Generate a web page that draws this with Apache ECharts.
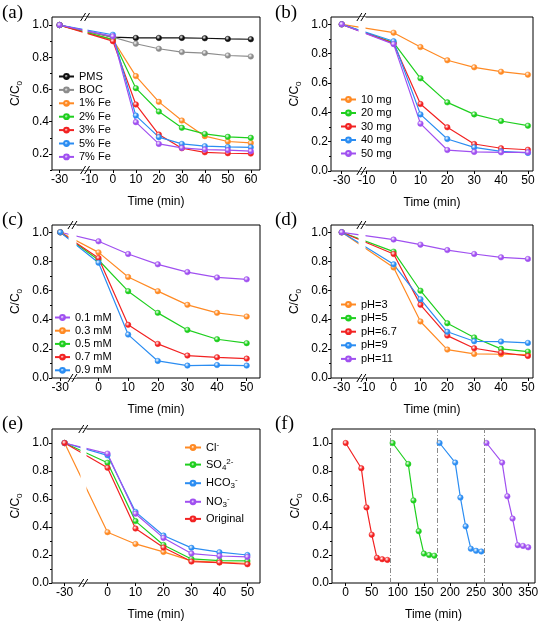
<!DOCTYPE html>
<html><head><meta charset="utf-8">
<script src="https://cdn.jsdelivr.net/npm/echarts@6/dist/echarts.min.js"></script>
<style>html,body{margin:0;padding:0;background:#fff}#c{width:544px;height:622px}</style>
</head><body><div id="c"></div>
<script>
// ---------------- data ----------------
const timeA = [-30, 0, 10, 20, 30, 40, 50, 60];
const pmsA  = [1.00, 0.925, 0.920, 0.920, 0.920, 0.918, 0.914, 0.912];
const bocA  = [1.00, 0.925, 0.884, 0.853, 0.832, 0.826, 0.811, 0.805];
const fe1A  = [1.00, 0.910, 0.683, 0.523, 0.407, 0.310, 0.277, 0.268];
const fe2A  = [1.00, 0.910, 0.608, 0.463, 0.362, 0.324, 0.306, 0.300];
const fe3A  = [1.00, 0.900, 0.507, 0.320, 0.235, 0.210, 0.204, 0.202];
const fe5A  = [1.00, 0.940, 0.438, 0.304, 0.262, 0.248, 0.243, 0.241];
const fe7A  = [1.00, 0.930, 0.397, 0.262, 0.237, 0.227, 0.223, 0.217];

const timeB = [-30, 0, 10, 20, 30, 40, 50];
const mg10 = [1.00, 0.943, 0.845, 0.755, 0.707, 0.677, 0.657];
const mg20 = [1.00, 0.875, 0.632, 0.468, 0.386, 0.341, 0.309];
const mg30 = [1.00, 0.870, 0.457, 0.298, 0.184, 0.155, 0.145];
const mg40 = [1.00, 0.885, 0.386, 0.218, 0.161, 0.134, 0.123];
const mg50 = [1.00, 0.865, 0.323, 0.143, 0.130, 0.127, 0.127];

const mM01 = [1.00, 0.938, 0.851, 0.780, 0.727, 0.690, 0.677];
const mM03 = [1.00, 0.862, 0.693, 0.596, 0.502, 0.447, 0.422];
const mM05 = [1.00, 0.810, 0.596, 0.447, 0.330, 0.266, 0.239];
const mM07 = [1.00, 0.823, 0.365, 0.234, 0.154, 0.142, 0.133];
const mM09 = [1.00, 0.791, 0.298, 0.117, 0.085, 0.089, 0.085];

const pH3  = [1.00, 0.759, 0.388, 0.195, 0.165, 0.163, 0.160];
const pH5  = [1.00, 0.867, 0.599, 0.376, 0.278, 0.200, 0.181];
const pH67 = [1.00, 0.851, 0.502, 0.291, 0.204, 0.174, 0.151];
const pH9  = [1.00, 0.780, 0.541, 0.317, 0.252, 0.250, 0.241];
const pH11 = [1.00, 0.950, 0.915, 0.878, 0.851, 0.828, 0.817];

const ionCl   = [1.00, 0.363, 0.279, 0.222, 0.158, 0.148, 0.141];
const ionSO4  = [1.00, 0.859, 0.442, 0.272, 0.172, 0.160, 0.158];
const ionHCO3 = [1.00, 0.912, 0.508, 0.339, 0.251, 0.220, 0.200];
const ionNO3  = [1.00, 0.924, 0.495, 0.322, 0.210, 0.193, 0.186];
const ionOrig = [1.00, 0.823, 0.389, 0.253, 0.153, 0.146, 0.134];

const cycTime1 = [0, 30, 40, 50, 60, 70, 80];
const cycVal1  = [1.00, 0.82, 0.54, 0.345, 0.18, 0.17, 0.165];
const cycTime2 = [90, 120, 130, 140, 150, 160, 170];
const cycVal2  = [1.00, 0.85, 0.59, 0.37, 0.21, 0.20, 0.195];
const cycTime3 = [180, 210, 220, 230, 240, 250, 260];
const cycVal3  = [1.00, 0.86, 0.61, 0.405, 0.245, 0.23, 0.225];
const cycTime4 = [270, 300, 310, 320, 330, 340, 350];
const cycVal4  = [1.00, 0.86, 0.62, 0.46, 0.27, 0.265, 0.255];
const cycleDividers = [85, 175, 265];

const xTicksA  = [-30, -10, 0, 10, 20, 30, 40, 50, 60];
const xTicksBD = [-30, -10, 0, 10, 20, 30, 40, 50];
const xTicksCE = [-30, 0, 10, 20, 30, 40, 50];
const xTicksF  = [0, 50, 100, 150, 200, 250, 300, 350];
const yTicks   = [0.0, 0.2, 0.4, 0.6, 0.8, 1.0];
const yTicksA  = [0.2, 0.4, 0.6, 0.8, 1.0];
const yMinor   = [0.1, 0.3, 0.5, 0.7, 0.9];
const panelLabels = ['(a)', '(b)', '(c)', '(d)', '(e)', '(f)'];

// ---------------- styling / layout ----------------
const COL = {black:'#111111', gray:'#8c8c8c', orange:'#FF8A24', green:'#1FCF1F', red:'#F22222', blue:'#2B8DF2', purple:'#A050F0'};
const FONT = '"Liberation Sans", Arial, sans-serif';

const layout = [
  {left:52,  top:17,  width:208, height:153, xmin:-33.3, xmax:64,   brk:[-20, -11],    gapPx:5,   ymin:0.1, ymax:1.05, xt:xTicksA,  yt:yTicksA, lx:2,   ly:4},
  {left:331, top:17,  width:202, height:154, xmin:-34,   xmax:51.9, brk:[-24, -10.7],  gapPx:7,   ymin:0,   ymax:1.05, xt:xTicksBD, yt:yTicks,  lx:275, ly:4},
  {left:52,  top:225, width:208, height:153, xmin:-32.8, xmax:54.5, brk:[-27.2, -7.5], gapPx:7.7, ymin:0,   ymax:1.05, xt:xTicksCE, yt:yTicks,  lx:2,   ly:211},
  {left:331, top:225, width:202, height:153, xmin:-34,   xmax:51.9, brk:[-24, -10.7],  gapPx:7,   ymin:0,   ymax:1.05, xt:xTicksBD, yt:yTicks,  lx:275, ly:211},
  {left:52,  top:429, width:208, height:154, xmin:-34.5, xmax:54.5, brk:[-24.4, -7.6], gapPx:6,   ymin:0,   ymax:1.1,  xt:xTicksCE, yt:yTicks,  lx:2,   ly:415},
  {left:332, top:429, width:203, height:154, xmin:-26.2, xmax:363,  brk:null,          gapPx:0,   ymin:0,   ymax:1.1,  xt:xTicksF,  yt:yTicks,  lx:275, ly:415}
];

const panelSeries = [
  [['PMS', timeA, pmsA, COL.black], ['BOC', timeA, bocA, COL.gray], ['1% Fe', timeA, fe1A, COL.orange], ['2% Fe', timeA, fe2A, COL.green], ['3% Fe', timeA, fe3A, COL.red], ['5% Fe', timeA, fe5A, COL.blue], ['7% Fe', timeA, fe7A, COL.purple]],
  [['10 mg', timeB, mg10, COL.orange], ['20 mg', timeB, mg20, COL.green], ['30 mg', timeB, mg30, COL.red], ['40 mg', timeB, mg40, COL.blue], ['50 mg', timeB, mg50, COL.purple]],
  [['0.1 mM', timeB, mM01, COL.purple], ['0.3 mM', timeB, mM03, COL.orange], ['0.5 mM', timeB, mM05, COL.green], ['0.7 mM', timeB, mM07, COL.red], ['0.9 mM', timeB, mM09, COL.blue]],
  [['pH=3', timeB, pH3, COL.orange], ['pH=5', timeB, pH5, COL.green], ['pH=6.7', timeB, pH67, COL.red], ['pH=9', timeB, pH9, COL.blue], ['pH=11', timeB, pH11, COL.purple]],
  [['Cl-', timeB, ionCl, COL.orange], ['SO42-', timeB, ionSO4, COL.green], ['HCO3-', timeB, ionHCO3, COL.blue], ['NO3-', timeB, ionNO3, COL.purple], ['Original', timeB, ionOrig, COL.red]],
  [['cycle 1', cycTime1, cycVal1, COL.red], ['cycle 2', cycTime2, cycVal2, COL.green], ['cycle 3', cycTime3, cycVal3, COL.blue], ['cycle 4', cycTime4, cycVal4, COL.purple]]
];

const legendPos = [
  {left:58, top:71, gap:2.4},
  {left:340, top:94, gap:2.5},
  {left:54, top:312, gap:2.2},
  {left:340, top:299, gap:2.6},
  {left:184, top:441, gap:4.6},
  null
];

const richName = {
  'Cl-': 'Cl{sup|-}',
  'SO42-': 'SO{sub|4}{sup|2-}',
  'HCO3-': 'HCO{sub|3}{sup|-}',
  'NO3-': 'NO{sub|3}{sup|-}',
  'Original': 'Original'
};

function ball(c) {
  return {type:'radial', x:0.38, y:0.35, r:0.75, colorStops:[{offset:0, color:'#ffffff'}, {offset:0.5, color:c}, {offset:1, color:c}]};
}

const grids = [], xAxes = [], yAxes = [], series = [], legends = [];
layout.forEach((L, i) => {
  grids.push({left:L.left, top:L.top, width:L.width, height:L.height, show:true, borderColor:'#000', borderWidth:1, backgroundColor:'rgba(0,0,0,0)'});
  const xa = {
    type:'value', gridIndex:i, min:L.xmin, max:L.xmax, z:5,
    axisLine:{show:false, onZero:false}, splitLine:{show:false},
    axisTick:{show:true, inside:false, length:3, lineStyle:{color:'#000', width:1}, customValues:L.xt},
    axisLabel:{show:true, customValues:L.xt, color:'#000', fontSize:12, fontFamily:FONT, margin:4},
    name:'Time (min)', nameLocation:'middle', nameGap:26,
    nameTextStyle:{color:'#000', fontSize:12, fontFamily:FONT}
  };
  if (L.brk) {
    xa.breaks = [{start:L.brk[0], end:L.brk[1], gap:(L.gapPx / L.width * 100).toFixed(2) + '%'}];
    xa.breakArea = {show:true, itemStyle:{color:'#ffffff', borderWidth:0, borderColor:'#ffffff', opacity:1}, zigzagAmplitude:0, zigzagZ:5, expandOnClick:false};
  }
  xAxes.push(xa);
  yAxes.push({
    type:'value', gridIndex:i, min:L.ymin, max:L.ymax, position:'left',
    axisLine:{show:false, onZero:false}, splitLine:{show:false},
    axisTick:{show:true, inside:false, length:3, lineStyle:{color:'#000'}, customValues:L.yt},
    axisLabel:{show:true, customValues:L.yt, color:'#000', fontSize:12, fontFamily:FONT, margin:3, formatter:v => v.toFixed(1)},
    name:'{n|C/C}{s|0}', nameLocation:'middle', nameGap:28, nameRotate:90,
    nameTextStyle:{color:'#000', rich:{n:{fontSize:12, fontFamily:FONT, color:'#000', lineHeight:16, verticalAlign:'middle'}, s:{fontSize:8, fontFamily:FONT, color:'#000', lineHeight:16, verticalAlign:'bottom', padding:[5,0,0,0]}}}
  });
  yAxes.push({
    type:'value', gridIndex:i, min:L.ymin, max:L.ymax, position:'left',
    axisLine:{show:false, onZero:false}, splitLine:{show:false},
    axisTick:{show:true, inside:false, length:2, lineStyle:{color:'#000'}, customValues:yMinor},
    axisLabel:{show:false}
  });
  panelSeries[i].forEach((s, k) => {
    const ser = {
      type:'line', name:s[0], xAxisIndex:i, yAxisIndex:2 * i,
      data:s[1].map((t, j) => [t, s[2][j]]),
      symbol:'circle', symbolSize:5.5, showSymbol:true,
      lineStyle:{color:s[3], width:1.2},
      itemStyle:{color:ball(s[3]), borderColor:s[3], borderWidth:0.5},
      emphasis:{disabled:true}, z:2
    };
    if (i === 5 && k === 0) {
      ser.markLine = {silent:true, symbol:'none', label:{show:false},
        lineStyle:{color:'#8a8a8a', type:[5, 2, 1, 2], width:1},
        data:cycleDividers.map(v => ({xAxis:v}))};
    }
    series.push(ser);
  });
  const LP = legendPos[i];
  if (LP) {
    const lg = {
      orient:'vertical', left:LP.left, top:LP.top, itemWidth:15, itemHeight:6, itemGap:LP.gap,
      padding:0, selectedMode:false, z:300, zlevel:1,
      data:panelSeries[i].map(s => s[0]),
      textStyle:{color:'#000', fontSize:11, fontFamily:FONT, lineHeight:11}
    };
    if (i === 4) {
      lg.itemWidth = 16;
      lg.formatter = name => richName[name];
      lg.textStyle = {color:'#000', fontSize:11, fontFamily:FONT, rich:{
        sub:{fontSize:8, fontFamily:FONT, color:'#000', verticalAlign:'bottom', padding:[6,0,0,0]},
        sup:{fontSize:8, fontFamily:FONT, color:'#000', verticalAlign:'top', padding:[0,0,5,0]}
      }};
    }
    legends.push(lg);
  }
});

const chart = echarts.init(document.getElementById('c'), null, {renderer:'canvas'});
chart.setOption({
  animation:false,
  backgroundColor:'#ffffff',
  grid:grids, xAxis:xAxes, yAxis:yAxes, series:series, legend:legends
});

// panel labels and axis-break marks
const graphics = [];
layout.forEach((L, i) => {
  graphics.push({type:'text', left:L.lx, top:L.ly, z:100,
    style:{text:panelLabels[i], font:'19px "Liberation Serif", "Times New Roman", serif', fill:'#000'}});
  if (L.brk) {
    const mid = (L.brk[0] + L.brk[1]) / 2;
    const px = chart.convertToPixel({xAxisIndex:i}, mid);
    [L.top, L.top + L.height].forEach(py => {
      [-2, 2].forEach(dx => {
        graphics.push({type:'line', z:100, silent:true,
          shape:{x1:px + dx - 2.5, y1:py + 4, x2:px + dx + 2.5, y2:py - 4},
          style:{stroke:'#000', lineWidth:1}});
      });
    });
  }
});
chart.setOption({graphic:graphics});
</script>
</body></html>
